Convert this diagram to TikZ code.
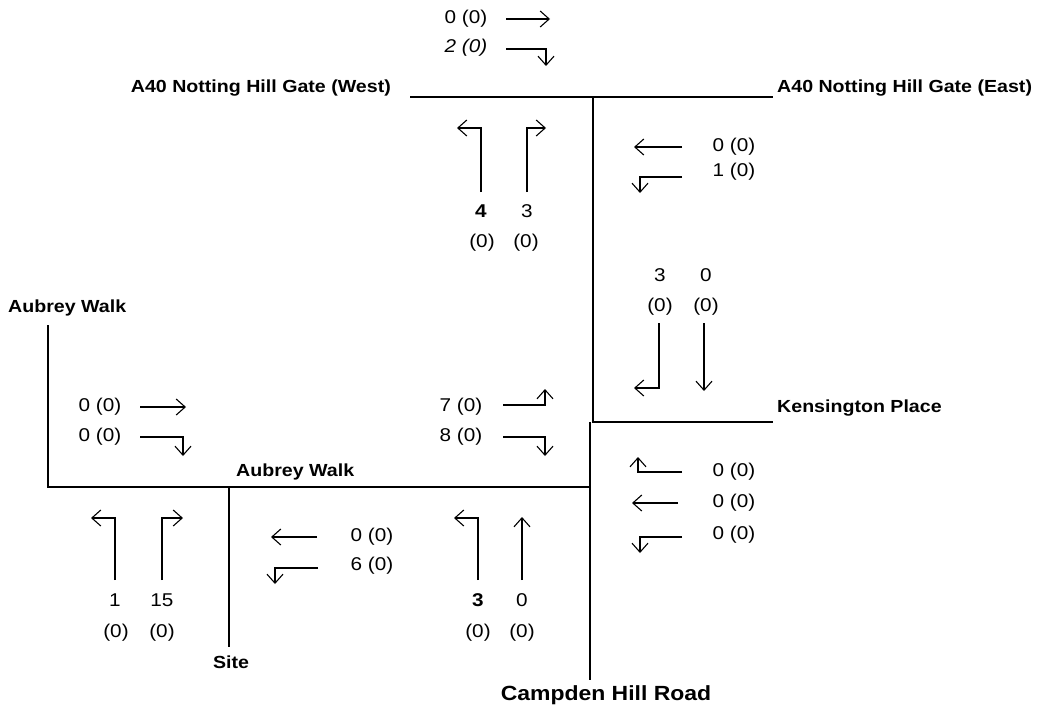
\documentclass[tikz,border=0pt]{standalone}
\usepackage{fontspec}
\setmainfont{Liberation Sans}[FakeStretch=1.12]
\usetikzlibrary{arrows.meta}

\begin{document}
\begin{tikzpicture}[x=1pt,y=-1pt,
  road/.style={line width=1.4pt},
  flow/.style={line width=1.1pt,-{Straight Barb[length=9pt,width=16pt]}},
  lbl/.style={font=\bfseries\fontsize{17.5}{19}\selectfont,inner sep=0pt},
  cnt/.style={font=\fontsize{18.5}{20}\selectfont,inner sep=0pt}]
  \useasboundingbox (0,0) rectangle (1052,710);

  % roads
  \draw[road] (410,97) -- (773,97);
  \draw[road] (593,97) -- (593,422) -- (773,422);
  \draw[road] (48,325) -- (48,487) -- (590,487);
  \draw[road] (590,422) -- (590,680);
  \draw[road] (229,487) -- (229,647);

  % road names
  \node[lbl,anchor=east] (gatewest) at (391,88) {A40 Notting Hill Gate (West)};
  \node[lbl,anchor=west] (gateeast) at (777,88) {A40 Notting Hill Gate (East)};
  \node[lbl,anchor=west] (aubreyw) at (8,308) {Aubrey Walk};
  \node[lbl,anchor=west] (aubreys) at (236,472) {Aubrey Walk};
  \node[lbl,anchor=west] (kensington) at (777,408) {Kensington Place};
  \node[lbl] (site) at (231,662) {Site};
  \node[lbl,font=\bfseries\fontsize{20.5}{22}\selectfont] (campden) at (606,695) {Campden Hill Road};

  % from the west, top
  \node[cnt] (tw1) at (466,19) {0 (0)};
  \node[cnt] (tw2) at (466,48) {\itshape 2 (0)};
  \draw[flow] (506,19) -- (550,19);
  \draw[flow] (506,49) -- (546,49) -- (546,66);

  % from the south, top
  \node[cnt] (ts1) at (481,211) {\bfseries 4};
  \node[cnt] (ts2) at (527,211) {3};
  \node[cnt] (ts3) at (482,243) {(0)};
  \node[cnt] (ts4) at (526,243) {(0)};
  \draw[flow] (481,192) -- (481,128) -- (457,128);
  \draw[flow] (527,192) -- (527,128) -- (546,128);

  % from the east, top
  \node[cnt] (te1) at (734,147) {0 (0)};
  \node[cnt] (te2) at (734,172) {1 (0)};
  \draw[flow] (682,147) -- (634,147);
  \draw[flow] (682,177) -- (640,177) -- (640,193);

  % from the north, middle
  \node[cnt] (mn1) at (660,275) {3};
  \node[cnt] (mn2) at (706,275) {0};
  \node[cnt] (mn3) at (660,307) {(0)};
  \node[cnt] (mn4) at (706,307) {(0)};
  \draw[flow] (659,323) -- (659,388) -- (634,388);
  \draw[flow] (704,323) -- (704,391);

  % from the west, Aubrey Walk
  \node[cnt] (aw1) at (100,407) {0 (0)};
  \node[cnt] (aw2) at (100,437) {0 (0)};
  \draw[flow] (140,407) -- (186,407);
  \draw[flow] (140,437) -- (183,437) -- (183,456);

  % from the west, centre
  \node[cnt] (cw1) at (461,407) {7 (0)};
  \node[cnt] (cw2) at (461,437) {8 (0)};
  \draw[flow] (503,405) -- (545,405) -- (545,389);
  \draw[flow] (503,437) -- (545,437) -- (545,456);

  % from the east, Kensington Place
  \node[cnt] (ke1) at (734,472) {0 (0)};
  \node[cnt] (ke2) at (734,503) {0 (0)};
  \node[cnt] (ke3) at (734,535) {0 (0)};
  \draw[flow] (682,472) -- (638,472) -- (638,457);
  \draw[flow] (678,503) -- (632,503);
  \draw[flow] (682,537) -- (640,537) -- (640,553);

  % from the south, Aubrey Walk
  \node[cnt] (as1) at (115,600) {1};
  \node[cnt] (as2) at (162,600) {15};
  \node[cnt] (as3) at (116,633) {(0)};
  \node[cnt] (as4) at (162,633) {(0)};
  \draw[flow] (115,580) -- (115,518) -- (91,518);
  \draw[flow] (162,580) -- (162,518) -- (183,518);

  % from the east, site
  \node[cnt] (se1) at (372,537) {0 (0)};
  \node[cnt] (se2) at (372,566) {6 (0)};
  \draw[flow] (317,537) -- (271,537);
  \draw[flow] (318,568) -- (275,568) -- (275,584);

  % from the south, Campden Hill Road
  \node[cnt] (cs1) at (478,600) {\bfseries 3};
  \node[cnt] (cs2) at (522,600) {0};
  \node[cnt] (cs3) at (478,633) {(0)};
  \node[cnt] (cs4) at (522,633) {(0)};
  \draw[flow] (478,580) -- (478,518) -- (454,518);
  \draw[flow] (522,580) -- (522,517);
\end{tikzpicture}
\end{document}
